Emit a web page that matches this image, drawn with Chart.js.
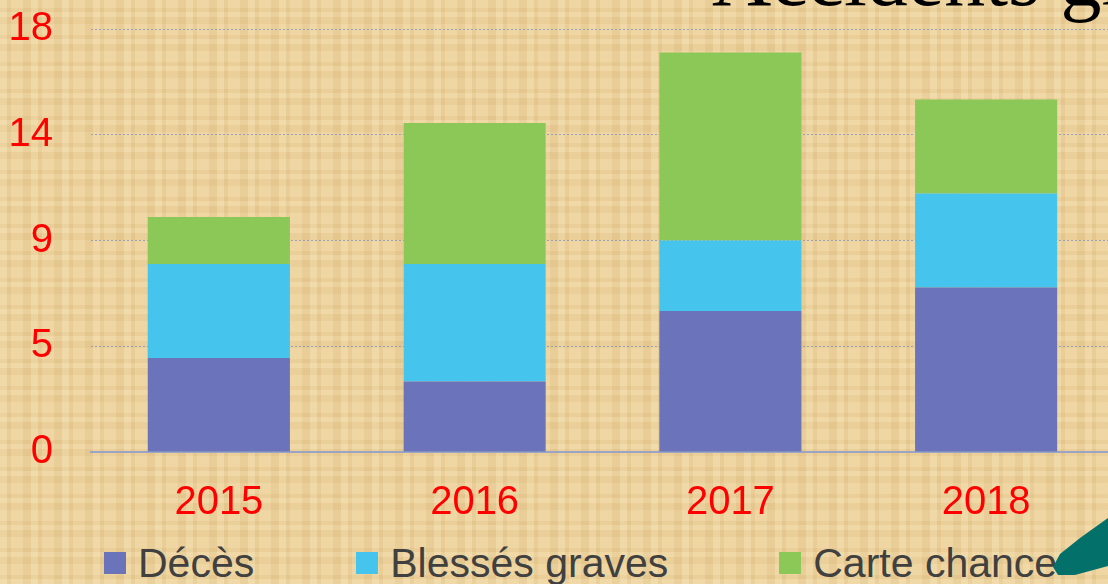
<!DOCTYPE html>
<html lang="fr">
<head>
<meta charset="utf-8">
<title>Accidents graves</title>
<script src="https://cdn.jsdelivr.net/npm/chart.js@4/dist/chart.umd.min.js"></script>
<style>
    html, body {
        margin: 0;
        padding: 0;
    }
    body {
        width: 1108px;
        height: 584px;
        overflow: hidden;
        position: relative;
        background-color: #ebcf99;
        background-image:
            repeating-linear-gradient(90deg, rgba(255, 245, 210, 0.18) 0 7px, rgba(200, 160, 90, 0.10) 7px 11px, rgba(255, 240, 200, 0.12) 11px 23px, rgba(190, 150, 80, 0.08) 23px 31px),
            repeating-linear-gradient(0deg, rgba(255, 245, 210, 0.16) 0 5px, rgba(200, 160, 90, 0.10) 5px 9px, rgba(255, 240, 200, 0.10) 9px 20px, rgba(190, 150, 80, 0.08) 20px 27px);
        font-family: "Liberation Sans", Arial, sans-serif;
    }
    #slide-title {
        position: absolute;
        left: 712px;
        top: -63px;
        font-family: "Liberation Serif", "Times New Roman", serif;
        font-size: 82px;
        line-height: 82px;
        color: #000;
        white-space: nowrap;
    }
    #chart-box {
        position: absolute;
        left: 0;
        top: 0;
        width: 1120px;
        height: 530px;
    }
    #legend {
        position: absolute;
        left: 104px;
        top: 543px;
        display: flex;
        font-size: 41px;
        line-height: 40px;
        color: #404040;
        white-space: nowrap;
    }
    .legend-item {
        display: flex;
        align-items: center;
    }
    .legend-item + .legend-item {
        margin-left: 102px;
    }
    .legend-item:last-child {
        margin-left: 111px;
    }
    .legend-box {
        width: 22px;
        height: 22px;
        margin-right: 12px;
    }
    #pen {
        position: absolute;
        left: 1050px;
        top: 510px;
        width: 58px;
        height: 70px;
        background: #03706a;
        clip-path: polygon(3px 57px, 10px 44px, 30px 28px, 58px 8px, 58px 56px, 25px 65px, 8px 65px);
    }
</style>
</head>
<body>
<div id="slide-title">Accidents graves</div>
<div id="chart-box"><canvas id="accidents-chart"></canvas></div>
<div id="legend"></div>
<div id="pen"></div>
<script>
const years = ["2015", "2016", "2017", "2018"]
const deces = [4, 3, 6, 7]
const blessesGraves = [4, 5, 3, 4]
const carteChance = [2, 6, 8, 4]
const yTickLabels = ["0", "5", "9", "14", "18"]

const seriesNames = ["Décès", "Blessés graves", "Carte chance"]
const seriesColors = ["#6b74bb", "#45c5ed", "#8cc858"]

document.addEventListener("DOMContentLoaded", () => {
    const chartElement = document.getElementById("accidents-chart")
    const legendElement = document.getElementById("legend")
    const labelFont = { family: "'Liberation Sans', Arial, sans-serif", size: 40 }

    const datasets = [deces, blessesGraves, carteChance].map((values, i) => ({
        label: seriesNames[i],
        data: values,
        backgroundColor: seriesColors[i],
        borderWidth: 0,
        barPercentage: 0.5556,
        categoryPercentage: 1,
    }))

    new Chart(chartElement, {
        type: "bar",
        data: {
            labels: years,
            datasets,
        },
        options: {
            responsive: true,
            maintainAspectRatio: false,
            animation: false,
            layout: {
                padding: { left: 8, right: 6, top: 29, bottom: 5 },
            },
            plugins: {
                legend: { display: false },
                tooltip: { enabled: false },
            },
            scales: {
                x: {
                    stacked: true,
                    grid: { display: false },
                    border: { color: "#9aa4c4", width: 2 },
                    ticks: {
                        color: "#ff0000",
                        padding: 19,
                        font: labelFont,
                    },
                    afterFit(scale) {
                        // keep the axis band fixed so the plot bottom sits where the slide has it
                        scale.height = 73
                        scale.paddingLeft = 0
                        scale.paddingRight = 0
                    },
                },
                y: {
                    stacked: true,
                    min: 0,
                    max: 18,
                    border: { display: false, dash: [2, 2] },
                    grid: {
                        drawTicks: false,
                        color: (ctx) => (ctx.tick && ctx.tick.value === 0 ? "rgba(0,0,0,0)" : "#97a0bd"),
                        lineWidth: 1,
                    },
                    ticks: {
                        stepSize: 4.5,
                        padding: 38,
                        color: "#ff0000",
                        font: labelFont,
                        callback(value, index) {
                            return yTickLabels[index]
                        },
                    },
                    afterFit(scale) {
                        scale.width = 83
                        scale.paddingTop = 0
                        scale.paddingBottom = 0
                    },
                },
            },
        },
    })

    seriesNames.forEach((name, i) => {
        const item = document.createElement("div")
        item.className = "legend-item"
        const box = document.createElement("span")
        box.className = "legend-box"
        box.style.background = seriesColors[i]
        const text = document.createElement("span")
        text.textContent = name
        item.append(box, text)
        legendElement.appendChild(item)
    })
})
</script>
</body>
</html>
